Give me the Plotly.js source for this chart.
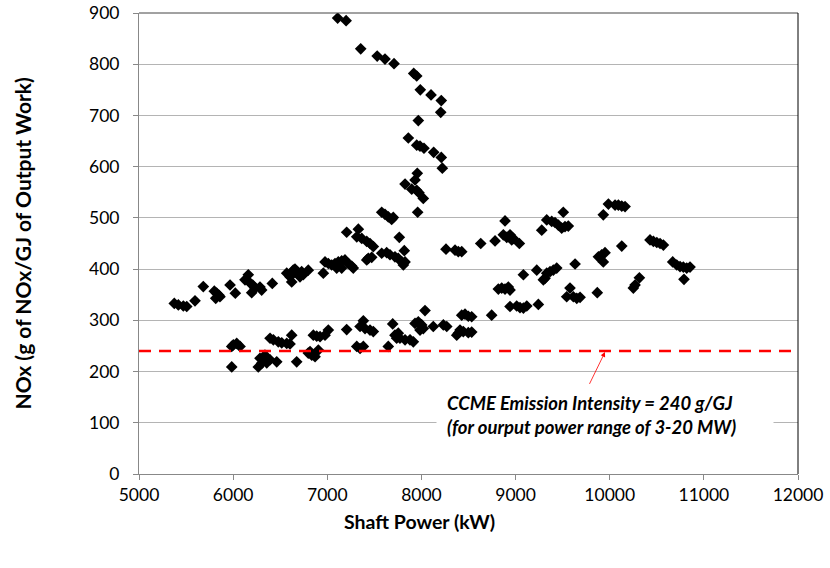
<!DOCTYPE html>
<html>
<head>
<meta charset="utf-8">
<script src="https://cdn.plot.ly/plotly-3.0.1.min.js"></script>
<style>html,body{margin:0;padding:0;background:#fff;}#chart{width:830px;height:568px;}</style>
</head>
<body>
<div id="chart"></div>
<script>
// Vertical "spike" branch (kW, g/GJ)
const spikeX = [7110,7200,7355,7530,7613,7709,7918,7950,7988,8102,8211,8205,7967,7861,7950,7985,8027,8130,8211,8222,7956,7932,7826,7897,7974,8020,7950,7960,7578,7613,7648,7684,7701];
const spikeY = [890,885,830,816,810,801,782,777,750,740,729,706,690,656,642,640,636,628,618,597,587,574,566,556,549,538,554,511,511,507,502,497,501];

// Upper band
const upperX = [5375,5418,5471,5507,5595,5683,5800,5825,5850,5815,5860,5967,6023,6161,6126,6179,6208,6232,6285,6303,6197,6416,6569,6604,6639,6675,6622,6710,6745,6798,6657,6692,6728,6958,6976,7011,7047,7082,7117,7153,7188,7223,7259,7100,7153,7276,7206,7330,7313,7366,7419,7454,7489,7419,7436,7472,7765,7818,7578,7631,7666,7719,7754,7791,7826,7808,8261,8357,8392,8428,8630,8782,8888,8870,8906,8941,8959,8976,9040,9278,9331,9384,9419,9454,9490,9525,9560,9507,9932,9986,10057,10092,10128,10163,10128,10428,10464,10500,10535,10570,10669,10712,10747,10782,10818,10853,10789];
const upperY = [333,330,328,327,338,366,357,353,349,343,346,369,353,389,379,373,369,363,365,359,354,372,392,385,398,392,375,385,389,398,400,393,395,392,414,411,408,411,414,416,418,411,406,402,402,402,472,478,463,460,454,450,444,418,421,423,462,436,431,432,428,424,421,414,414,408,439,437,434,434,450,455,494,467,462,467,457,460,450,476,496,493,491,486,480,483,484,511,506,527,525,525,523,522,445,457,454,452,450,447,414,408,405,404,402,404,380];

// Middle band
const middleX = [8746,8817,8853,8888,8923,8941,9083,9225,9313,9331,9366,9401,9437,9295,9632,9880,9915,9950,9932,10251,10269,10315,8941,9012,9047,9083,9119,9242,9578,9543,9614,9650,9685,9868];
const middleY = [310,361,363,361,365,359,389,398,382,392,395,398,402,379,410,424,428,432,414,363,369,383,327,328,325,324,328,331,363,346,346,343,345,354];

// Lower band
const lowerX = [6002,6038,6073,5985,5985,6267,6285,6321,6357,6303,6338,6392,6463,6392,6427,6480,6516,6569,6604,6622,6675,6798,6835,6870,6905,6817,6852,6888,6923,6976,7011,7206,7383,7348,7401,7454,7489,7313,7348,7383,7648,7695,7719,7754,7772,7826,7879,7914,7737,7932,7967,8003,8020,7985,8038,8126,8233,8269,8392,8410,8445,8498,8534,8375,8428,8463,8498,8534];
const lowerY = [252,255,249,249,209,209,226,223,217,216,232,223,219,265,262,258,256,255,254,271,219,236,232,229,242,239,271,269,268,271,281,282,299,288,284,281,278,249,245,249,249,293,271,275,265,262,262,258,265,294,297,291,284,281,319,288,291,288,275,281,278,276,277,271,310,312,308,307];

const limitValue = 240;
const limitText = "CCME Emission Intensity = 240 g/GJ<br>(for ourput power range of 3-20 MW)";
const xTitle = "Shaft Power (kW)";
const yTitle = "NOx (g of NOx/GJ of Output Work)";

const FONT = "Lato, 'Open Sans', sans-serif";
const mk = {symbol: 'diamond', size: 9, color: '#000000', line: {width: 0}};
function tr(x, y) { return {x: x, y: y, type: 'scatter', mode: 'markers', marker: mk, hoverinfo: 'x+y', showlegend: false}; }

const data = [tr(spikeX, spikeY), tr(upperX, upperY), tr(middleX, middleY), tr(lowerX, lowerY)];

const layout = {
  width: 830, height: 568,
  margin: {l: 139, r: 32, t: 13, b: 94},
  paper_bgcolor: '#ffffff', plot_bgcolor: '#ffffff',
  font: {family: FONT, size: 17, color: '#000000'},
  showlegend: false,
  xaxis: {
    range: [5000, 12000], dtick: 1000, tick0: 5000, tickformat: 'd',
    showgrid: false, zeroline: false,
    showline: true, linecolor: '#888888', linewidth: 1,
    ticks: 'outside', ticklen: 5, tickcolor: '#888888',
    tickfont: {family: FONT, size: 17.5, color: '#000000'},
    fixedrange: true
  },
  yaxis: {
    range: [0, 900], dtick: 100, tick0: 0, tickformat: 'd',
    showgrid: true, gridcolor: '#b4b4b4', gridwidth: 1,
    zeroline: false,
    showline: true, linecolor: '#888888', linewidth: 1,
    ticks: 'outside', ticklen: 5, tickcolor: '#888888',
    ticklabelstandoff: 10,
    tickfont: {family: FONT, size: 17.5, color: '#000000'},
    fixedrange: true
  },
  shapes: [
    {type: 'line', xref: 'paper', yref: 'paper', x0: 0, x1: 1, y0: 1, y1: 1, line: {color: '#444444', width: 1}},
    {type: 'line', xref: 'paper', yref: 'paper', x0: 1, x1: 1, y0: 0, y1: 1, line: {color: '#000000', width: 1}},
    {type: 'line', xref: 'paper', yref: 'y', x0: 0, x1: 1, y0: limitValue, y1: limitValue, line: {color: '#ff0000', width: 2.5, dash: '12px,8px'}}
  ],
  annotations: [
    {xref: 'x', yref: 'y', x: 9950, y: 115, text: '<b><i>' + limitText + '</i></b>', showarrow: false,
     align: 'left', width: 316, height: 46, borderpad: 10, bgcolor: '#ffffff', xanchor: 'center', yanchor: 'middle',
     font: {family: FONT, size: 18.5, color: '#000000'}},
    {xref: 'x', yref: 'y', x: 9950, y: limitValue - 2, text: ' ', showarrow: true, arrowhead: 2, arrowsize: 1.2, arrowwidth: 0.8,
     arrowcolor: '#ff0000', ax: -19, ay: 39, standoff: 0},
    {xref: 'paper', yref: 'paper', x: 0.425, y: -0.104, text: '<b>' + xTitle + '</b>', showarrow: false,
     xanchor: 'center', yanchor: 'middle', font: {family: FONT, size: 19.5, color: '#000000'}},
    {xref: 'paper', yref: 'paper', x: -0.1775, y: 0.50, text: '<b>' + yTitle + '</b>', showarrow: false, textangle: -90,
     xanchor: 'center', yanchor: 'middle', font: {family: FONT, size: 21, color: '#000000'}}
  ]
};

Plotly.newPlot('chart', data, layout, {displayModeBar: false, staticPlot: true});
</script>
</body>
</html>
